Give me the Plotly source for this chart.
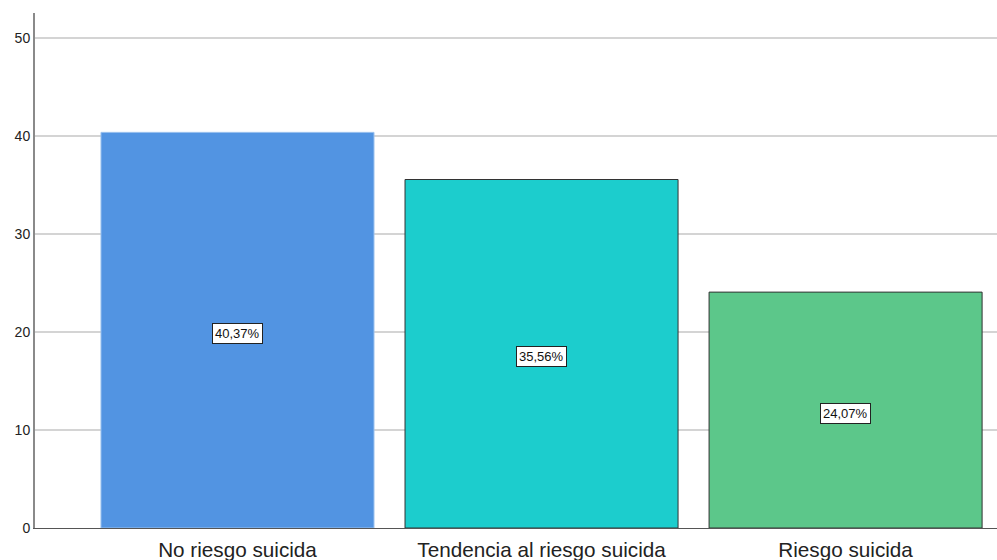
import plotly.graph_objects as go

categories = ["No riesgo suicida", "Tendencia al riesgo suicida", "Riesgo suicida"]
percentages = [40.37, 35.56, 24.07]
bar_colors = ["#5294e2", "#1ccdcd", "#5cc78a"]
outline_colors = ["#9cc2ef", "#333333", "#333333"]
y_ticks = [0, 10, 20, 30, 40, 50]

fig = go.Figure()
fig.add_trace(go.Bar(
    x=list(range(len(categories))),
    y=percentages,
    marker=dict(color=bar_colors, line=dict(color=outline_colors, width=1)),
    width=0.898,
    hoverinfo="skip",
))

# Value labels boxed in the middle of each bar
for i, v in enumerate(percentages):
    fig.add_annotation(
        x=i, y=v / 2, yshift=-3, text=f"{v:.2f}%".replace(".", ","),
        showarrow=False, bgcolor="white", bordercolor="#222222", borderwidth=1,
        borderpad=2, font=dict(family="Liberation Sans, Arial", size=13, color="#111111"),
    )

fig.update_layout(
    width=997, height=560,
    margin=dict(l=35, r=0, t=13, b=32),
    plot_bgcolor="white", paper_bgcolor="white",
    showlegend=False,
    xaxis=dict(
        range=[-0.666, 2.498],
        tickvals=list(range(len(categories))), ticktext=categories,
        showgrid=False, zeroline=False,
        showline=True, linecolor="#555555", linewidth=1,
        tickfont=dict(family="Liberation Sans, Arial", size=20.7, color="#222222"),
        ticks="", ticklabelstandoff=3,
    ),
    yaxis=dict(
        range=[0, 52.55],
        tickvals=y_ticks,
        showgrid=True, gridcolor="#d4d4d4", gridwidth=1.5,
        zeroline=False,
        showline=True, linecolor="#8a8a8a", linewidth=2,
        tickfont=dict(family="Liberation Sans, Arial", size=14, color="#222222"),
        ticks="", ticklen=0,
    ),
)

fig.write_html("out.html")
